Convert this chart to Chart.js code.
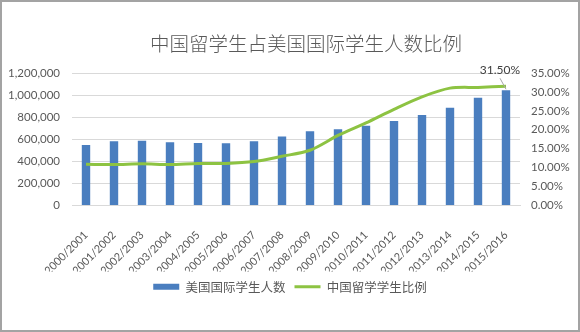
<!DOCTYPE html>
<html>
<head>
<meta charset="utf-8">
<script src="https://cdn.jsdelivr.net/npm/chart.js@4.4.1/dist/chart.umd.min.js"></script>
<style>
html,body{margin:0;padding:0;background:#fff;}
#wrap{position:relative;width:580px;height:332px;}
</style>
</head>
<body>
<div id="wrap"><canvas id="c" width="580" height="332"></canvas></div>
<script>
const chartTitle = '中国留学生占美国国际学生人数比例';
const categories = ['2000/2001','2001/2002','2002/2003','2003/2004','2004/2005','2005/2006','2006/2007','2007/2008','2008/2009','2009/2010','2010/2011','2011/2012','2012/2013','2013/2014','2014/2015','2015/2016'];
const seriesNames = ['美国国际学生人数','中国留学学生比例'];
const intlStudents = [547867,582996,586323,572509,565039,564766,582984,623805,671616,690923,723277,764495,819644,886052,974926,1043839];
const chinaShare = [10.9,10.8,11.0,10.8,11.1,11.1,11.6,13.0,14.6,18.5,21.8,25.4,28.7,31.0,31.2,31.5];
const leftTicks = [0,200000,400000,600000,800000,1000000,1200000];
const rightTicks = [0,5,10,15,20,25,30,35];

const gray = '#595959';
const numFont = 'Lato, "Noto Sans", sans-serif';
const cjkFont = '"Noto Sans CJK SC", sans-serif';

const decor = {
  id: 'decor',
  afterDraw(chart) {
    const ctx = chart.ctx;
    ctx.save();
    ctx.fillStyle = gray;
    ctx.font = '300 19.5px ' + cjkFont;
    ctx.textAlign = 'center';
    ctx.textBaseline = 'middle';
    ctx.fillText(chartTitle, 306, 44);
    const meta = chart.getDatasetMeta(1);
    const last = meta.data[meta.data.length - 1];
    const v = chinaShare[chinaShare.length - 1];
    ctx.strokeStyle = '#a6a6a6';
    ctx.lineWidth = 1;
    ctx.beginPath();
    ctx.moveTo(last.x - 6, last.y - 12);
    ctx.lineTo(last.x, last.y - 1);
    ctx.stroke();
    ctx.fillStyle = '#404040';
    ctx.font = '12px ' + numFont;
    ctx.fillText(v.toFixed(2) + '%', last.x - 6, last.y - 20);
    ctx.strokeStyle = '#a3a3a3';
    ctx.lineWidth = 2;
    ctx.strokeRect(1, 1, chart.width - 2, chart.height - 2);
    ctx.restore();
  }
};

new Chart(document.getElementById('c'), {
  type: 'bar',
  data: {
    labels: categories,
    datasets: [
      {
        type: 'line',
        label: seriesNames[1],
        data: chinaShare,
        yAxisID: 'y1',
        borderColor: '#8dc342',
        backgroundColor: '#8dc342',
        borderWidth: 3,
        pointRadius: 0,
        tension: 0.3,
        pointStyle: 'line',
        order: 0
      },
      {
        type: 'bar',
        label: seriesNames[0],
        data: intlStudents,
        yAxisID: 'y',
        backgroundColor: '#4a7ebf',
        borderWidth: 0,
        barPercentage: 0.6,
        categoryPercentage: 0.5,
        pointStyle: 'rect',
        order: 1
      }
    ]
  },
  options: {
    responsive: false,
    animation: false,
    devicePixelRatio: 1,
    layout: { padding: { top: 73, bottom: 29, left: 0, right: 0 } },
    plugins: {
      title: { display: false },
      tooltip: { enabled: false },
      legend: {
        position: 'bottom',
        reverse: true,
        labels: {
          usePointStyle: true,
          pointStyleWidth: 26,
          boxHeight: 6,
          padding: 9,
          color: gray,
          font: { family: cjkFont, size: 12.5 }
        }
      }
    },
    scales: {
      x: {
        grid: { display: false },
        border: { display: true, color: '#d9d9d9' },
        ticks: {
          color: gray,
          font: { family: numFont, size: 11 },
          maxRotation: 45,
          minRotation: 45,
          autoSkip: false,
          padding: 15
        },
        afterFit(s) { s.height = 66; }
      },
      y: {
        position: 'left',
        min: 0, max: 1200000,
        afterBuildTicks(s) { s.ticks = leftTicks.map(v => ({ value: v })); },
        grid: { color: '#d9d9d9', drawTicks: false },
        border: { display: false },
        ticks: {
          color: gray,
          padding: 12,
          font: { family: numFont, size: 11.5 },
          callback: v => v.toLocaleString('en-US')
        },
        afterFit(s) { s.width = 72; }
      },
      y1: {
        position: 'right',
        min: 0, max: 35,
        afterBuildTicks(s) { s.ticks = rightTicks.map(v => ({ value: v })); },
        grid: { display: false, drawTicks: false },
        border: { display: false },
        ticks: {
          color: gray,
          padding: 11,
          font: { family: numFont, size: 11.5 },
          callback: v => v.toFixed(2) + '%'
        },
        afterFit(s) { s.width = 60; }
      }
    }
  },
  plugins: [decor]
});
</script>
</body>
</html>
